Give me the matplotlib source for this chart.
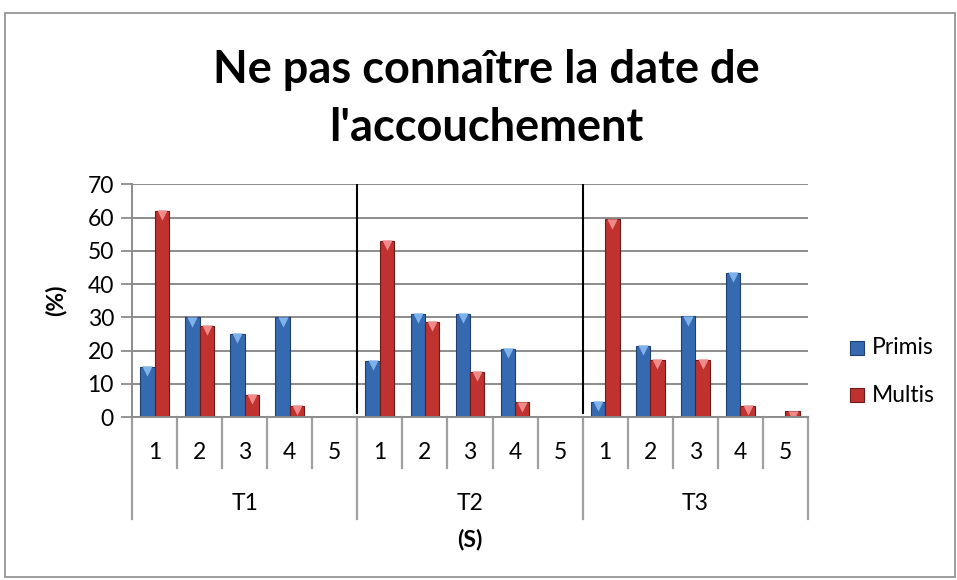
import matplotlib
matplotlib.use("Agg")
import matplotlib.pyplot as plt
import matplotlib.transforms as mtransforms
from matplotlib.patches import Rectangle
import numpy as np

plt.rcParams['font.family'] = ['Lato', 'DejaVu Sans']

title = "Ne pas connaître la date de\nl'accouchement"
groups = ["T1", "T2", "T3"]
categories = ["1", "2", "3", "4", "5"]
series_names = ["Primis", "Multis"]
primis = [15, 30, 25, 30, 0,
          17, 31, 31, 20.5, 0,
          4.5, 21.5, 30.3, 43.5, 0]
multis = [62, 27.5, 6.7, 3.4, 0,
          53, 28.7, 13.5, 4.4, 0,
          59.5, 17.3, 17.3, 3.4, 1.7]
yticks = [0, 10, 20, 30, 40, 50, 60, 70]
ylabel = "(%)"
xlabel = "(S)"

W, H = 957, 580
fig = plt.figure(figsize=(W / 100, H / 100), dpi=100)
ax = fig.add_axes([132 / W, (H - 417) / H, (808 - 132) / W, (417 - 184.5) / H])

n = len(groups) * len(categories)
x = np.arange(n)
bw = 0.32
blue, blue_e, blue_l = "#3569B0", "#1E3F70", "#7FB2EA"
red, red_e, red_l = "#BF3230", "#6E1A19", "#F08A88"

ax.bar(x - bw / 2, primis, bw, color=blue, edgecolor=blue_e, linewidth=0.8, zorder=3)
ax.bar(x + bw / 2, multis, bw, color=red, edgecolor=red_e, linewidth=0.8, zorder=3)
# bevel highlights at bar tops
for xs, vals, cl in [(x - bw / 2, primis, blue_l), (x + bw / 2, multis, red_l)]:
    for xi, v in zip(xs, vals):
        if v > 0:
            ax.scatter([xi], [v], marker='v', s=55, color=cl, zorder=4,
                       linewidths=0, clip_on=True,
                       transform=ax.transData + mtransforms.ScaledTranslation(0, -3 / 72, fig.dpi_scale_trans))

ax.set_xlim(-0.5, n - 0.5)
ax.set_ylim(0, 70)
ax.set_yticks(yticks)
ax.set_yticklabels([str(t) for t in yticks], fontsize=16.5)
ax.tick_params(axis='y', direction='out', length=8, width=1.3, color='#8c8c8c', pad=5)
ax.set_xticks([])
ax.grid(axis='y', color='#8c8c8c', linewidth=1.4, zorder=0)
for s in ['top', 'right']:
    ax.spines[s].set_visible(False)
ax.spines['left'].set_color('#8c8c8c')
ax.spines['left'].set_linewidth(1.4)
ax.spines['bottom'].set_color('#8c8c8c')
ax.spines['bottom'].set_linewidth(1.4)
ax.spines['bottom'].set_zorder(6)

# group separator lines inside plot
for g in range(1, len(groups)):
    ax.plot([g * len(categories) - 0.5] * 2, [1.2, 70], color='black', linewidth=1.5, zorder=5)

# multi-level category axis
trans = mtransforms.blended_transform_factory(ax.transData, ax.transAxes)
for i in range(n + 1):
    xb = i - 0.5
    is_group = (i % len(categories) == 0)
    y_end = -0.44 if is_group else -0.22
    ax.plot([xb, xb], [0, y_end], transform=trans, color='#a0a0a0', linewidth=1.6, clip_on=False)
for i in range(n):
    ax.text(i, -0.152, categories[i % len(categories)], transform=trans,
            ha='center', va='center', fontsize=16.5)
for gi, g in enumerate(groups):
    ax.text(gi * len(categories) + (len(categories) - 1) / 2, -0.37, g, transform=trans,
            ha='center', va='center', fontsize=16.5)

fig.text(470 / W, 1 - 540 / H, xlabel, ha='center', va='center', fontsize=16.5, fontweight='bold')
fig.text(56 / W, 1 - 300 / H, ylabel, ha='center', va='center', fontsize=16.5, fontweight='bold', rotation=90)
fig.text(486 / W, 1 - 99 / H, title, ha='center', va='center', fontsize=32.5, fontweight='bold',
         linespacing=1.45)

# legend
for k, (name, c, ce, cl) in enumerate([(series_names[0], blue, blue_e, blue_l),
                                       (series_names[1], red, red_e, red_l)]):
    yc = 1 - (348 + 47 * k) / H
    fig.patches.append(Rectangle((850 / W, yc - 7 / H), 14 / W, 14 / H, transform=fig.transFigure,
                                 facecolor=c, edgecolor=ce, linewidth=0.8))
    fig.text(872 / W, yc, name, ha='left', va='center', fontsize=16.5)

# chart border
fig.patches.append(Rectangle((5 / W, 3 / H), (W - 7) / W, (H - 16) / H, transform=fig.transFigure,
                             fill=False, edgecolor='#8c8c8c', linewidth=1.2))

fig.savefig("out.png", dpi=100)
